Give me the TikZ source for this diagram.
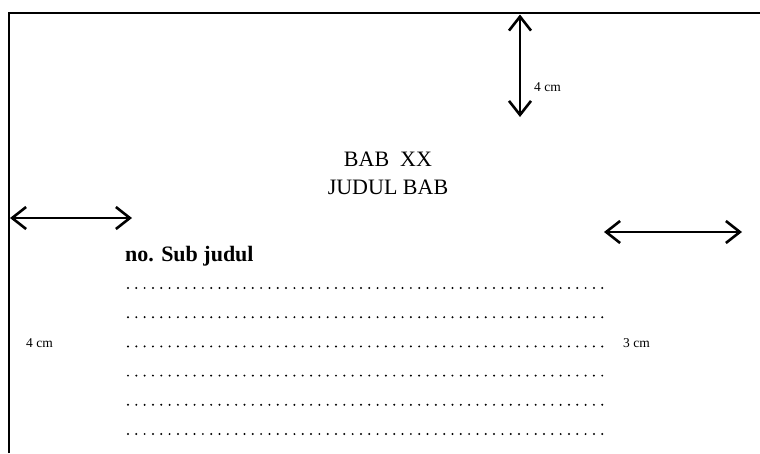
\documentclass[tikz,border=0pt]{standalone}
\usepackage{fontspec}
\setmainfont{Liberation Serif}
\usetikzlibrary{arrows.meta}
\begin{document}
\begin{tikzpicture}[x=1pt,y=-1pt,
  frame/.style={line width=2pt,black},
  dimarrow/.style={line width=2.6pt,{Straight Barb[length=14pt,width=22pt]}-{Straight Barb[length=14pt,width=22pt]}},
  dimlabel/.style={font=\fontsize{13.5}{16}\selectfont,inner sep=0pt},
  title/.style={font=\fontsize{22}{27}\selectfont,inner sep=0pt,align=center},
  dotrow/.style={line width=2.2pt,line cap=round,dash pattern=on 0pt off 8.32pt}]
\useasboundingbox (0,0) rectangle (760,453);
% page frame
\draw[frame] (8.5,453) -- (8.5,13) -- (760,13);
% dimension arrows
\coordinate (vt) at (520,14.5);
\coordinate (vb) at (520,117);
\draw[dimarrow] (vt) -- (vb);
\node[dimlabel,anchor=west] (v4) at (534,87) {4 cm};
\coordinate (ll) at (10,218);
\coordinate (lr) at (132,218);
\draw[dimarrow] (ll) -- (lr);
\coordinate (rl) at (604,232);
\coordinate (rr) at (742,232);
\draw[dimarrow] (rl) -- (rr);
\node[dimlabel,anchor=west] (l4) at (26,343) {4 cm};
\node[dimlabel,anchor=west] (r3) at (623,343) {3 cm};
% title
\node[title] (bab) at (388,159) {BAB\ \ XX};
\node[title] (judul) at (388,187) {JUDUL BAB};
\node[font=\fontsize{22}{27}\selectfont,inner sep=0pt,anchor=base west] (sub) at (125,261) {\textbf{no. Sub judul}};
% dotted lines
\foreach \yy in {288,317.2,346.4,375.6,404.8,434}{
  \draw[dotrow] (128,\yy) -- (602.5,\yy);
}
\end{tikzpicture}
\end{document}
